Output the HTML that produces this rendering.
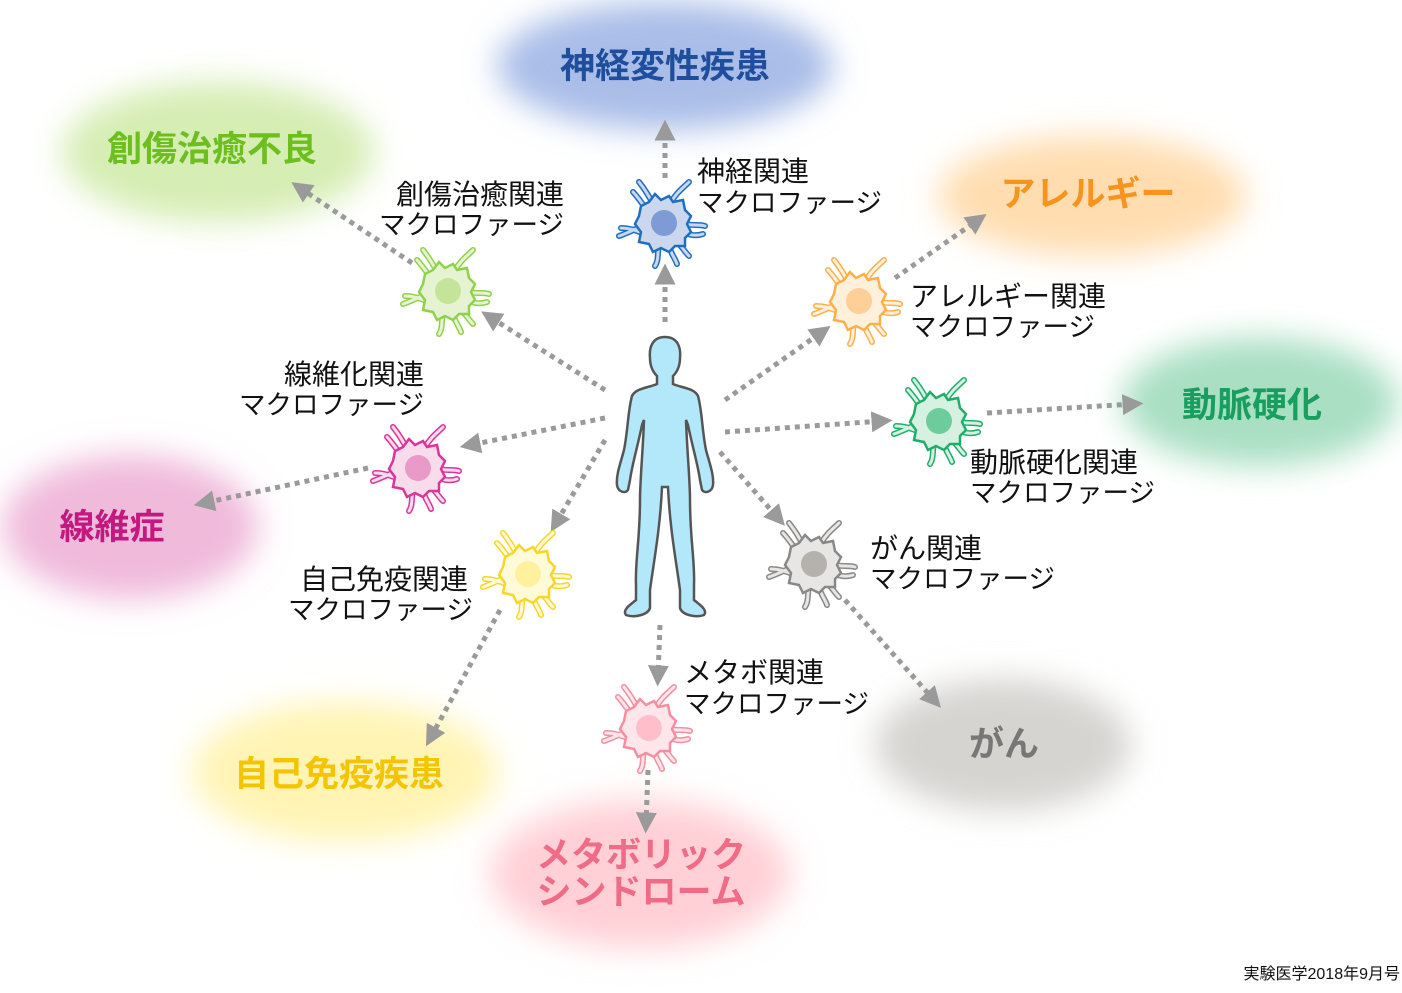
<!DOCTYPE html>
<html><head><meta charset="utf-8"><style>
html,body{margin:0;padding:0;background:#fff;}
svg{display:block;}
text{font-family:"Liberation Sans","Noto Sans CJK JP",sans-serif;}
.lbl{font-size:28px;fill:#111;}
.lk{font-size:26.5px;}
.ttl{font-size:35px;font-weight:bold;}
.ar{stroke:#9a9a9a;stroke-width:5;stroke-dasharray:5 5;fill:none;}
.pod{fill:none;stroke:var(--s);stroke-width:6;stroke-linecap:round;}
.podi{fill:none;stroke:var(--f);stroke-width:3;stroke-linecap:round;}
.bd{fill:var(--f);stroke:var(--s);stroke-width:2.5;}
.nu{fill:var(--n);}
</style></head><body>
<svg width="1402" height="993" viewBox="0 0 1402 993" xmlns="http://www.w3.org/2000/svg">
<defs>
<filter id="bl" x="-30%" y="-30%" width="160%" height="160%"><feGaussianBlur stdDeviation="16"/></filter>
<marker id="ah" viewBox="0 0 10 10" refX="5" refY="5" markerWidth="4.2" markerHeight="4.2" orient="auto"><path d="M0,0 L10,5 L0,10 z" fill="#9a9a9a"/></marker>
<g id="mac">
<path class="pod" d="M-10,-18 C-15,-28 -20,-35 -24,-40 M8,-20 C14,-30 20,-34 26,-40 M22,2 C30,4 36,2 42,4 M20,10 C28,14 34,14 40,12 M-20,4 C-30,8 -38,12 -44,14 M-18,12 C-28,8 -34,6 -42,6 M-4,24 C-6,32 -4,38 -8,44 M6,24 C8,32 12,36 14,42 M14,20 C20,26 22,30 26,34 M-16,-12 C-22,-20 -26,-26 -30,-30"/>
<path class="podi" d="M-10,-18 C-15,-28 -20,-35 -24,-40 M8,-20 C14,-30 20,-34 26,-40 M22,2 C30,4 36,2 42,4 M20,10 C28,14 34,14 40,12 M-20,4 C-30,8 -38,12 -44,14 M-18,12 C-28,8 -34,6 -42,6 M-4,24 C-6,32 -4,38 -8,44 M6,24 C8,32 12,36 14,42 M14,20 C20,26 22,30 26,34 M-16,-12 C-22,-20 -26,-26 -30,-30"/>
<path class="bd" d="M-22,-16 L-14,-20 L-8,-28 L-2,-22 L6,-26 L10,-20 L20,-22 L22,-12 L28,-6 L24,2 L28,10 L22,16 L22,24 L12,24 L6,30 L-2,26 L-10,30 L-14,22 L-24,20 L-22,10 L-28,2 L-24,-6 Z"/>
<circle class="nu" cx="1" cy="1" r="13"/>
</g>
</defs>

<g filter="url(#bl)">
<ellipse cx="665" cy="66" rx="168" ry="64" fill="#a9bde8"/>
<ellipse cx="218" cy="152" rx="156" ry="70" fill="#d6edb4"/>
<ellipse cx="1092" cy="196" rx="154" ry="60" fill="#ffddb0"/>
<ellipse cx="1260" cy="402" rx="138" ry="64" fill="#a9dfc2"/>
<ellipse cx="130" cy="527" rx="128" ry="72" fill="#f0badb"/>
<ellipse cx="345" cy="772" rx="153" ry="70" fill="#fff4b4"/>
<ellipse cx="640" cy="874" rx="150" ry="74" fill="#ffd0d6"/>
<ellipse cx="1003" cy="745" rx="128" ry="66" fill="#d6d4d1"/>
</g>

<text class="ttl" x="665" y="78" text-anchor="middle" fill="#1f4e9c">神経変性疾患</text>
<text class="ttl" x="212" y="161" text-anchor="middle" fill="#6cbf1e">創傷治癒不良</text>
<text class="ttl" x="1088" y="206" text-anchor="middle" fill="#f7941d">アレルギー</text>
<text class="ttl" x="1252" y="417" text-anchor="middle" fill="#1a9e5f">動脈硬化</text>
<text class="ttl" x="112" y="539" text-anchor="middle" fill="#c2187f">線維症</text>
<text class="ttl" x="339" y="786" text-anchor="middle" fill="#f5c400">自己免疫疾患</text>
<text class="ttl" x="641" y="867" text-anchor="middle" fill="#f06b86">メタボリック</text>
<text class="ttl" x="641" y="904" text-anchor="middle" fill="#f06b86">シンドローム</text>
<text class="ttl" x="1004" y="756" text-anchor="middle" fill="#777">がん</text>

<g class="ar" marker-end="url(#ah)">
<path d="M665,178 L665,130"/>
<path d="M665,322 L665,274"/>
<path d="M605,390 L490,317"/>
<path d="M412,263 L300,188"/>
<path d="M725,400 L822,332"/>
<path d="M895,278 L978,220"/>
<path d="M725,432 L882,421"/>
<path d="M987,413 L1133,404"/>
<path d="M605,418 L470,445"/>
<path d="M368,468 L204,503"/>
<path d="M605,440 L556,523"/>
<path d="M500,610 L431,737"/>
<path d="M660,625 L658,676"/>
<path d="M648,770 L646,823"/>
<path d="M720,452 L778,518"/>
<path d="M845,600 L934,700"/>
</g>

<path d="M665,337 C652,337 649,348 650,358 C650,366 653,372 657,376 L657,384 C648,388 636,388 632,396 C628,410 628,430 624,450 C620,465 616,475 617,485 C618,492 625,494 628,490 L630,480 C632,465 638,445 642,425 L644,420 C643,450 640,480 640,500 C640,540 635,560 636,585 L636,600 C630,605 622,610 626,615 C634,618 648,615 650,608 L650,590 C654,560 660,530 662,487 L668,487 C670,530 676,560 680,590 L680,608 C682,615 696,618 704,615 C708,610 700,605 694,600 L694,585 C695,560 690,540 690,500 C690,480 687,450 686,420 L688,425 C692,445 698,465 700,480 L702,490 C705,494 712,492 713,485 C714,475 710,465 706,450 C702,430 702,410 698,396 C694,388 682,388 673,384 L673,376 C677,372 680,366 680,358 C681,348 678,337 665,337 Z" fill="#b3e7fa" stroke="#555" stroke-width="2.5"/>

<use href="#mac" x="663" y="222" style="--f:#cbd6ef;--s:#1f6fc0;--n:#7f9bd6"/>
<use href="#mac" x="447" y="290" style="--f:#e6f3d3;--s:#8fd24a;--n:#c4e49a"/>
<use href="#mac" x="858" y="300" style="--f:#fff0dc;--s:#fbb04a;--n:#ffcf98"/>
<use href="#mac" x="417" y="467" style="--f:#f8dcec;--s:#d9359a;--n:#e99ac8"/>
<use href="#mac" x="938" y="420" style="--f:#d6f0e2;--s:#1fae6a;--n:#6ccc9c"/>
<use href="#mac" x="813" y="563" style="--f:#e8e6e4;--s:#888;--n:#b5b2ae"/>
<use href="#mac" x="527" y="573" style="--f:#fffbd8;--s:#f8d628;--n:#fff1a0"/>
<use href="#mac" x="648" y="727" style="--f:#ffe6ea;--s:#f58ea0;--n:#ffbfca"/>

<text class="lbl" x="697" y="181">神経関連</text>
<text class="lbl lk" x="697" y="212">マクロファージ</text>
<text class="lbl" x="564" y="204" text-anchor="end">創傷治癒関連</text>
<text class="lbl lk" x="564" y="234" text-anchor="end">マクロファージ</text>
<text class="lbl" x="910" y="306">アレルギー関連</text>
<text class="lbl lk" x="910" y="336">マクロファージ</text>
<text class="lbl" x="424" y="384" text-anchor="end">線維化関連</text>
<text class="lbl lk" x="424" y="414" text-anchor="end">マクロファージ</text>
<text class="lbl" x="970" y="472">動脈硬化関連</text>
<text class="lbl lk" x="970" y="502">マクロファージ</text>
<text class="lbl" x="870" y="558">がん関連</text>
<text class="lbl lk" x="870" y="588">マクロファージ</text>
<text class="lbl" x="468" y="589" text-anchor="end">自己免疫関連</text>
<text class="lbl lk" x="473" y="619" text-anchor="end">マクロファージ</text>
<text class="lbl" x="684" y="682">メタボ関連</text>
<text class="lbl lk" x="684" y="713">マクロファージ</text>

<text x="1400" y="979" text-anchor="end" font-size="16" fill="#111">実験医学2018年9月号</text>
</svg>
</body></html>
